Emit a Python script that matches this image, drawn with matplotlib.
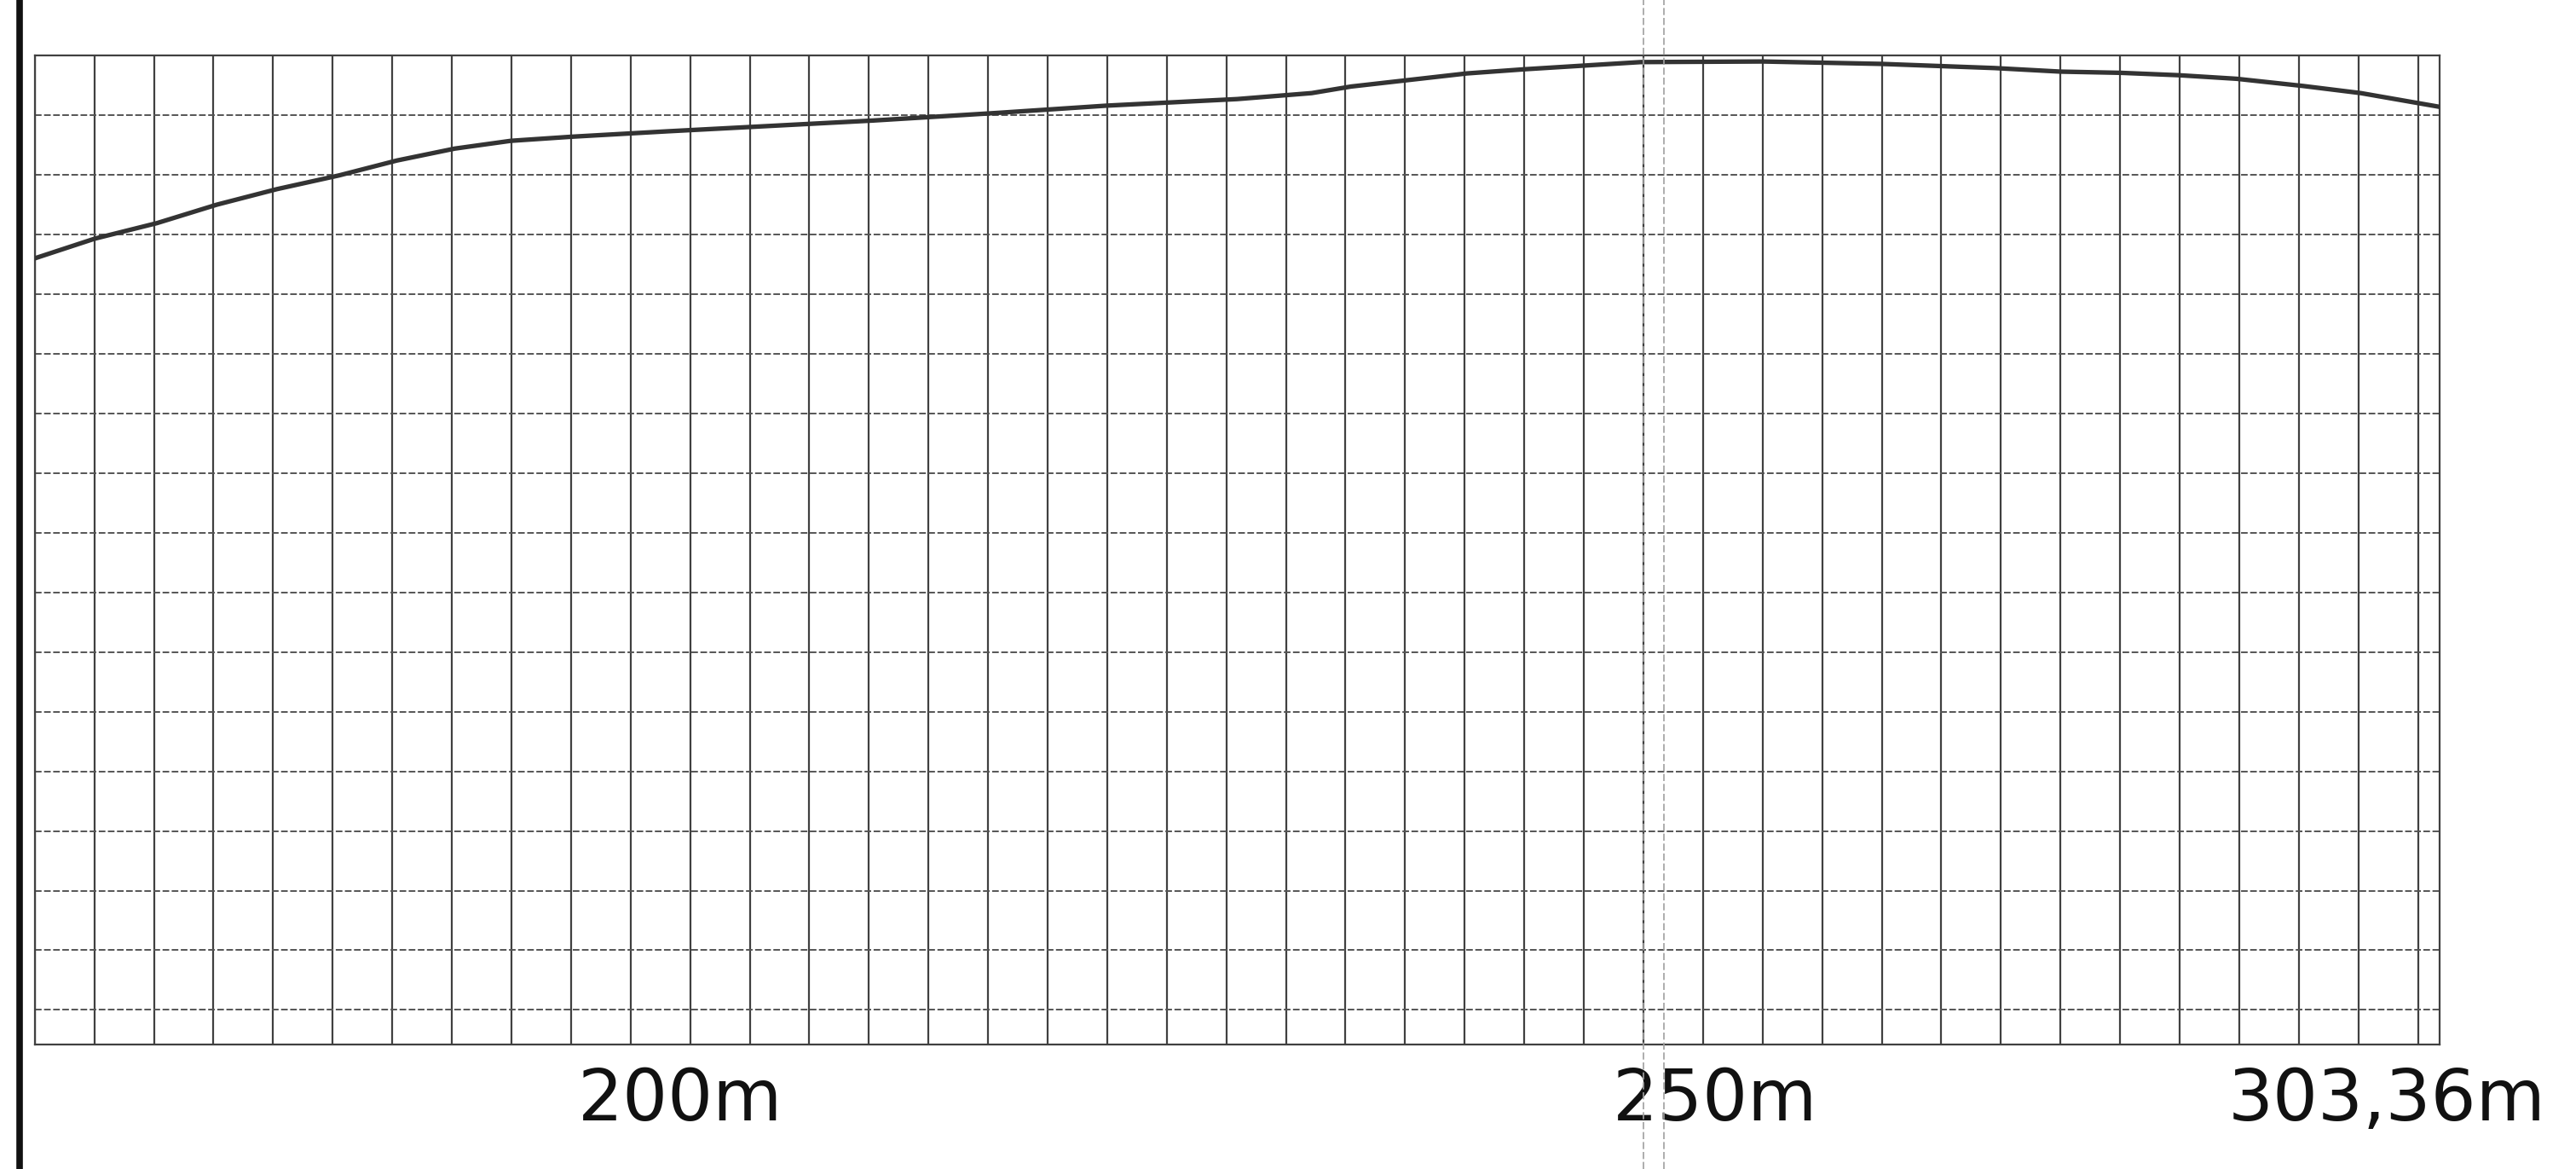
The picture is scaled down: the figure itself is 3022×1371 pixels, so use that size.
import numpy as np
import matplotlib
matplotlib.use('Agg')
import matplotlib.pyplot as plt
import matplotlib.transforms as mtransforms

dist_m = [168.8, 171.7, 174.7, 177.6, 180.5, 183.5, 186.3, 189.1, 191.8, 194.8,
          199.4, 209.3, 215.4, 220.6, 226.9, 230.5, 232.4, 238.0, 240.8, 246.4,
          252.3, 258.0, 263.5, 266.7, 269.6, 272.4, 275.2, 278.4, 281.2, 285.0]
elev_m = [96.60, 96.93, 97.19, 97.50, 97.76, 97.99, 98.24, 98.44, 98.57, 98.64,
          98.73, 98.91, 99.04, 99.16, 99.27, 99.37, 99.48, 99.70, 99.77, 99.89,
          99.90, 99.86, 99.79, 99.73, 99.71, 99.67, 99.61, 99.49, 99.37, 99.14]

x_start, x_end = 168.8, 285.0
grid_dx = 2.879
y_top, grid_dy, n_rows = 100.0, 1.0, 16.58
tick_pos = [200, 250, x_end]
tick_labels = ['200m', '250m', '303,36m']

fig = plt.figure(figsize=(30.22, 13.71), dpi=100)
ax = fig.add_axes([0.0135, 0.1065, 0.9335, 0.846])

ax.plot(dist_m, elev_m, color='#333333', lw=3.8, solid_capstyle='round', zorder=3)

ax.set_xlim(x_start, x_end)
ax.set_ylim(y_top - n_rows * grid_dy, y_top)

# cuadrícula
ax.set_xticks(np.arange(x_start, x_end, grid_dx), minor=True)
ax.set_yticks(y_top - np.arange(0, 17) * grid_dy)
ax.set_yticklabels([])
ax.xaxis.grid(True, which='minor', color='#404040', lw=1.6)
ax.yaxis.grid(True, which='major', color='#555555', lw=1.4, ls=(0, (4, 1.5)))
ax.tick_params(which='both', length=0)
ax.tick_params(axis='y', left=False, labelleft=False)

ax.set_xticks(tick_pos)
ax.set_xticklabels(tick_labels, fontsize=60, family='DejaVu Sans', color='#111111')
ax.tick_params(axis='x', pad=18)
# la etiqueta final queda algo desplazada a la izquierda
offset = mtransforms.ScaledTranslation(-0.62, 0, fig.dpi_scale_trans)
last = ax.get_xticklabels()[-1]
last.set_transform(last.get_transform() + offset)

for s in ax.spines.values():
    s.set_color('#404040')
    s.set_linewidth(1.6)

# bordes del escaneo: línea negra a la izquierda y pliegue cerca de 250m
fig.add_artist(plt.Line2D([0.0076, 0.0076], [0, 1], color='#111111', lw=5.5,
                          transform=fig.transFigure))
for fx in [1928 / 3022, 1952 / 3022]:
    fig.add_artist(plt.Line2D([fx, fx], [0, 1], color='#a0a0a0', lw=1.2,
                              ls=(0, (5, 2)), transform=fig.transFigure))

plt.savefig('out.png', dpi=100, facecolor='white')
